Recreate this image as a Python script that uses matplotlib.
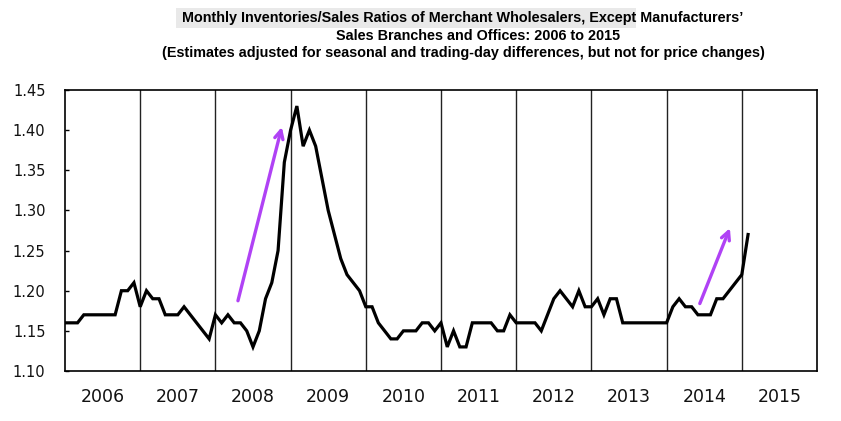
import matplotlib
matplotlib.use("Agg")
import matplotlib.pyplot as plt
from matplotlib.patches import Rectangle
import numpy as np

years = ["2006", "2007", "2008", "2009", "2010", "2011", "2012", "2013", "2014", "2015"]

ratio_2006 = [1.16, 1.16, 1.16, 1.17, 1.17, 1.17, 1.17, 1.17, 1.17, 1.20, 1.20, 1.21]
ratio_2007 = [1.18, 1.20, 1.19, 1.19, 1.17, 1.17, 1.17, 1.18, 1.17, 1.16, 1.15, 1.14]
ratio_2008 = [1.17, 1.16, 1.17, 1.16, 1.16, 1.15, 1.13, 1.15, 1.19, 1.21, 1.25, 1.36]
ratio_2009 = [1.40, 1.43, 1.38, 1.40, 1.38, 1.34, 1.30, 1.27, 1.24, 1.22, 1.21, 1.20]
ratio_2010 = [1.18, 1.18, 1.16, 1.15, 1.14, 1.14, 1.15, 1.15, 1.15, 1.16, 1.16, 1.15]
ratio_2011 = [1.16, 1.13, 1.15, 1.13, 1.13, 1.16, 1.16, 1.16, 1.16, 1.15, 1.15, 1.17]
ratio_2012 = [1.16, 1.16, 1.16, 1.16, 1.15, 1.17, 1.19, 1.20, 1.19, 1.18, 1.20, 1.18]
ratio_2013 = [1.18, 1.19, 1.17, 1.19, 1.19, 1.16, 1.16, 1.16, 1.16, 1.16, 1.16, 1.16]
ratio_2014 = [1.16, 1.18, 1.19, 1.18, 1.18, 1.17, 1.17, 1.17, 1.19, 1.19, 1.20, 1.21]
ratio_2015 = [1.22, 1.27]

y_ticks = [1.10, 1.15, 1.20, 1.25, 1.30, 1.35, 1.40, 1.45]

title_lines = [
    "Monthly Inventories/Sales Ratios of Merchant Wholesalers, Except Manufacturers\u2019",
    "Sales Branches and Offices: 2006 to 2015",
    "(Estimates adjusted for seasonal and trading-day differences, but not for price changes)",
]

ratios = (ratio_2006 + ratio_2007 + ratio_2008 + ratio_2009 + ratio_2010 +
          ratio_2011 + ratio_2012 + ratio_2013 + ratio_2014 + ratio_2015)
months = np.arange(len(ratios))

W, H = 841, 421
fig = plt.figure(figsize=(W / 100, H / 100), dpi=100)
fig.patch.set_facecolor("white")

ax = fig.add_axes([65 / W, 1 - 371 / H, (817 - 65) / W, (371 - 90) / H])

n_years = len(years)
ax.set_xlim(0, 12 * n_years)
ax.set_ylim(1.10, 1.45)

# year dividers
for k in range(1, n_years):
    ax.axvline(12 * k, color="#222222", lw=1.0, zorder=1)

ax.plot(months, ratios, color="black", lw=2.3, solid_joinstyle="miter", zorder=3)

# arrows
arrow_color = "#B042F5"
ax.annotate("", xy=(34.6, 1.404), xytext=(27.6, 1.1875),
            arrowprops=dict(arrowstyle="->,head_length=0.6,head_width=0.3",
                            color=arrow_color, lw=2.4, shrinkA=0, shrinkB=0),
            zorder=4)
ax.annotate("", xy=(106.1, 1.278), xytext=(101.3, 1.184),
            arrowprops=dict(arrowstyle="->,head_length=0.6,head_width=0.3",
                            color=arrow_color, lw=2.4, shrinkA=0, shrinkB=0),
            zorder=4)

ax.set_yticks(y_ticks)
ax.set_yticklabels([f"{v:.2f}" for v in y_ticks], fontsize=10.5,
                   family="DejaVu Sans", color="#111111")
ax.tick_params(axis="y", direction="in", length=3, width=1, pad=14)

ax.set_xticks([12 * k + 6 for k in range(n_years)])
ax.set_xticklabels(years, fontsize=12.5, family="DejaVu Sans", color="#111111")
ax.tick_params(axis="x", length=0, pad=12)

for s in ax.spines.values():
    s.set_color("black")
    s.set_linewidth(1.2)

# title with grey highlight
fig.patches.append(Rectangle((176 / W, 1 - 28 / H), (636 - 176) / W, 20 / H,
                             transform=fig.transFigure, facecolor="#e9e9e9",
                             edgecolor="none", zorder=0))
tfont = dict(family=["Liberation Sans", "DejaVu Sans"], fontweight="bold",
             fontsize=10.4, color="black", ha="center", va="center")
fig.text(463 / W, 1 - 18 / H, title_lines[0], **tfont)
fig.text(478 / W, 1 - 36 / H, title_lines[1], **tfont)
fig.text(463 / W, 1 - 53.5 / H, title_lines[2], **tfont)

fig.savefig("out.png", dpi=100, facecolor="white")
